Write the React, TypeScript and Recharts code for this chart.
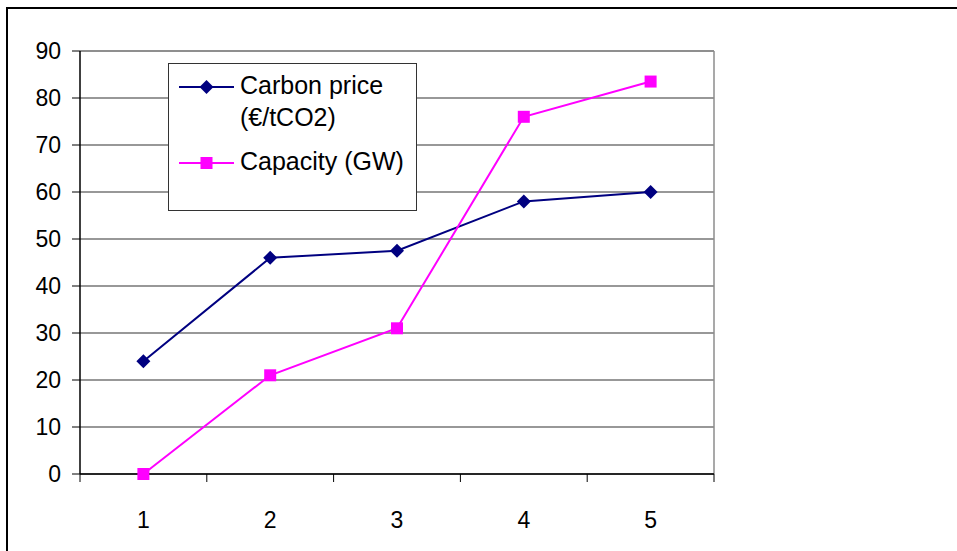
import React from 'react'
import {
  LineChart,
  Line,
  XAxis,
  YAxis,
  CartesianGrid,
  ReferenceLine,
} from 'recharts'

// --- data ---
const periods = [1, 2, 3, 4, 5]
const carbonPrice = [24, 46, 47.5, 58, 60]
const capacity = [0, 21, 31, 76, 83.5]
const yTicks = [0, 10, 20, 30, 40, 50, 60, 70, 80, 90]
const xTicks = [0.5, 1, 1.5, 2, 2.5, 3, 3.5, 4, 4.5, 5, 5.5]

const SERIES = [
  { key: 'carbon', name: 'Carbon price (€/tCO2)', color: '#000080', shape: 'diamond' },
  { key: 'capacity', name: 'Capacity (GW)', color: '#FF00FF', shape: 'square' },
]

const data = periods.map((p, i) => ({
  period: p,
  carbon: carbonPrice[i],
  capacity: capacity[i],
}))

const FONT = "'Liberation Sans', Arial, sans-serif"

function Marker({ cx, cy, shape, color }: any) {
  if (cx == null || cy == null) return null
  if (shape === 'diamond') {
    const r = 7
    return (
      <polygon
        points={`${cx},${cy - r} ${cx + r},${cy} ${cx},${cy + r} ${cx - r},${cy}`}
        fill={color}
      />
    )
  }
  const s = 6
  return <rect x={cx - s} y={cy - s} width={s * 2} height={s * 2} fill={color} />
}

// tick marks sit between categories, labels under category centres
function XTick({ x, y, payload }: any) {
  if (payload.value % 1 !== 0) {
    return <line x1={x} x2={x} y1={y} y2={y + 8} stroke="#000" strokeWidth={1} />
  }
  return (
    <text
      x={x}
      y={y + 46}
      textAnchor="middle"
      dominantBaseline="central"
      fontSize={23}
      fontFamily={FONT}
      fill="#000"
    >
      {payload.value}
    </text>
  )
}

// legend box drawn over the plot, like the Excel one
function LegendBox() {
  return (
    <div
      style={{
        position: 'absolute',
        left: 168,
        top: 63,
        width: 249,
        height: 148,
        boxSizing: 'border-box',
        border: '1px solid #333',
        background: '#fff',
        padding: '5px 0 0 10px',
        fontFamily: FONT,
        fontSize: 25,
        lineHeight: '32px',
        color: '#000',
      }}
    >
      {SERIES.map((s, i) => (
        <div key={s.key} style={{ display: 'flex', alignItems: 'flex-start', marginTop: i === 0 ? 0 : 12 }}>
          <svg width={55} height={32} style={{ flex: 'none', marginRight: 6 }}>
            <line x1={0} x2={55} y1={18} y2={18} stroke={s.color} strokeWidth={2} />
            <Marker cx={27.5} cy={18} shape={s.shape} color={s.color} />
          </svg>
          <span style={{ width: 175 }}>{s.name}</span>
        </div>
      ))}
    </div>
  )
}

export default function App() {
  return (
    <div
      style={{
        position: 'absolute',
        left: 0,
        top: 0,
        width: 957,
        height: 551,
        overflow: 'hidden',
        background: '#fff',
      }}
    >
      {/* chart frame, cut off on the right and bottom */}
      <div
        style={{
          position: 'absolute',
          left: 6,
          top: 7,
          width: 1000,
          height: 1000,
          border: '2px solid #000',
        }}
      />
      <div style={{ position: 'absolute', left: 0, top: 0 }}>
        <LineChart
          width={957}
          height={551}
          data={data}
          margin={{ top: 51, right: 243, bottom: 0, left: 0 }}
        >
          <CartesianGrid vertical={false} stroke="#333" strokeWidth={1.2} />
          <XAxis
            dataKey="period"
            type="number"
            domain={[0.5, 5.5]}
            ticks={xTicks}
            interval={0}
            height={77}
            tickSize={0}
            tickMargin={0}
            tickLine={false}
            axisLine={{ stroke: '#000', strokeWidth: 1.5 }}
            tick={<XTick />}
          />
          <YAxis
            type="number"
            domain={[0, 90]}
            ticks={yTicks}
            interval={0}
            width={80}
            tickSize={8}
            tickMargin={11}
            tickLine={{ stroke: '#000' }}
            axisLine={{ stroke: '#000', strokeWidth: 1.5 }}
            tick={{ fontSize: 23, fill: '#000', fontFamily: FONT }}
          />
          <ReferenceLine y={90} stroke="#8c8c8c" strokeWidth={1.5} />
          <ReferenceLine x={5.5} stroke="#8c8c8c" strokeWidth={1.5} />
          {SERIES.map((s) => (
            <Line
              key={s.key}
              dataKey={s.key}
              name={s.name}
              stroke={s.color}
              strokeWidth={2}
              isAnimationActive={false}
              dot={(p: any) => (
                <Marker key={`${s.key}-${p.index}`} cx={p.cx} cy={p.cy} shape={s.shape} color={s.color} />
              )}
              activeDot={false}
            />
          ))}
        </LineChart>
      </div>
      <LegendBox />
    </div>
  )
}
